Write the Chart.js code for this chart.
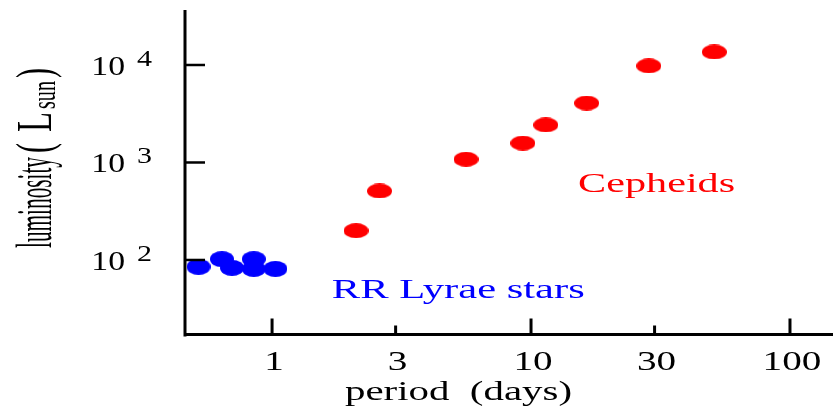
<!DOCTYPE html>
<html>
<head>
<meta charset="utf-8">
<script src="https://cdn.jsdelivr.net/npm/chart.js@4"></script>
<style>
  html, body { margin: 0; padding: 0; background: #fff; }
  canvas { display: block; }
</style>
</head>
<body>
<canvas id="plChart" width="833" height="410"></canvas>
<script>
// period (days) and luminosity (L_sun) of the variable stars
const cepheidPeriod = [2.11, 2.60, 5.61, 9.30, 11.4, 16.4, 28.5, 51.0];
const cepheidLum = [200, 510, 1080, 1580, 2430, 4070, 9800, 13600];
const rrLyraePeriod = [0.52, 0.64, 0.70, 0.85, 0.85, 1.03];
const rrLyraeLum = [85, 102, 83, 102, 81, 81];

// axis ticks
const periodTicks = [1, 3, 10, 30, 100];
const periodTickLabels = ['1', '3', '10', '30', '100'];
const lumTicks = [100, 1000, 10000];
const lumTickExp = ['2', '3', '4'];

const SERIF = '"Liberation Serif", "Times New Roman", serif';

function dot(w, h, color) {
    const c = document.createElement('canvas');
    c.width = w;
    c.height = h;
    const g = c.getContext('2d');
    g.fillStyle = color;
    g.beginPath();
    g.ellipse(w / 2, h / 2, w / 2, h / 2, 0, 0, Math.PI * 2);
    g.fill();
    return c;
}

// text with its own horizontal stretch (len = target width, hgt = glyph height factor)
function putText(ctx, str, x, y, o) {
    ctx.save();
    ctx.font = o.size + 'px ' + SERIF;
    const w = ctx.measureText(str).width;
    ctx.translate(x, y);
    if (o.rot) ctx.rotate(o.rot);
    ctx.scale(o.len ? o.len / w : (o.sx || 1), o.hgt || 1);
    ctx.textAlign = o.align || 'left';
    ctx.textBaseline = 'alphabetic';
    ctx.fillStyle = o.color || '#000';
    ctx.fillText(str, 0, 0);
    ctx.restore();
}

const axesPlugin = {
    id: 'axesPlugin',
    afterDraw(chart) {
        const ctx = chart.ctx;
        const xs = chart.scales.x, ys = chart.scales.y;
        const area = chart.chartArea;
        const x0 = area.left + 1, y0 = area.bottom - 0.5;

        ctx.save();
        ctx.strokeStyle = '#000';
        ctx.lineCap = 'butt';

        // axis lines
        ctx.lineWidth = 3;
        ctx.beginPath();
        ctx.moveTo(x0, area.top);
        ctx.lineTo(x0, area.bottom + 1.5);
        ctx.moveTo(area.left, y0);
        ctx.lineTo(area.right, y0);
        ctx.stroke();

        // period ticks point up into the plot
        periodTicks.forEach((v, i) => {
            const px = xs.getPixelForValue(v);
            const major = Math.log10(v) % 1 === 0;
            ctx.beginPath();
            ctx.moveTo(px, y0);
            ctx.lineTo(px, y0 - (major ? 16 : 9));
            ctx.stroke();
            putText(ctx, periodTickLabels[i], px + 2, 370, { size: 27, sx: 1.45, align: 'center' });
        });

        // luminosity ticks point right
        ctx.lineWidth = 2.5;
        lumTicks.forEach((v, i) => {
            const py = ys.getPixelForValue(v);
            ctx.beginPath();
            ctx.moveTo(x0, py);
            ctx.lineTo(x0 + 20, py);
            ctx.stroke();
            putText(ctx, '10', 125, py + 10, { size: 27, sx: 1.25, align: 'right' });
            putText(ctx, lumTickExp[i], 137, py + 1, { size: 24, sx: 1.25 });
        });
        ctx.restore();

        // axis titles
        putText(ctx, 'period  (days)', 345, 400, { size: 27, len: 227 });

        ctx.save();
        ctx.translate(51, 248);
        ctx.rotate(-Math.PI / 2);
        putText(ctx, 'luminosity', 0, 0, { size: 22, len: 91, hgt: 2.3 });
        putText(ctx, '(', 95, 0, { size: 22, len: 10, hgt: 2.3 });
        putText(ctx, 'L', 116, 0, { size: 22, len: 20, hgt: 2.3 });
        putText(ctx, 'sun', 139, 4, { size: 15, len: 28, hgt: 2.3 });
        putText(ctx, ')', 170, 0, { size: 22, len: 10, hgt: 2.3 });
        ctx.restore();

        // group labels sit next to their stars
        putText(ctx, 'Cepheids', xs.getPixelForValue(15.2), ys.getPixelForValue(498),
            { size: 28, len: 157, color: '#ff0000' });
        putText(ctx, 'RR Lyrae stars', xs.getPixelForValue(1.70), ys.getPixelForValue(40.7),
            { size: 28, len: 253, color: '#0000ff' });
    }
};

const ctx = document.getElementById('plChart').getContext('2d');
new Chart(ctx, {
    type: 'scatter',
    data: {
        datasets: [
            {
                label: 'RR Lyrae stars',
                data: rrLyraePeriod.map((p, i) => ({ x: p, y: rrLyraeLum[i] })),
                pointStyle: dot(24, 16, '#0000ff'),
                pointRadius: 12
            },
            {
                label: 'Cepheids',
                data: cepheidPeriod.map((p, i) => ({ x: p, y: cepheidLum[i] })),
                pointStyle: dot(25, 15, '#ff0000'),
                pointRadius: 12
            }
        ]
    },
    options: {
        responsive: false,
        animation: false,
        events: [],
        layout: { autoPadding: false, padding: { left: 184, right: 0, top: 10, bottom: 75 } },
        plugins: { legend: { display: false }, tooltip: { enabled: false } },
        scales: {
            x: { type: 'logarithmic', min: 0.457, max: 146.6, display: false },
            y: { type: 'logarithmic', min: 17.0, max: 36650, display: false }
        }
    },
    plugins: [axesPlugin]
});
</script>
</body>
</html>
